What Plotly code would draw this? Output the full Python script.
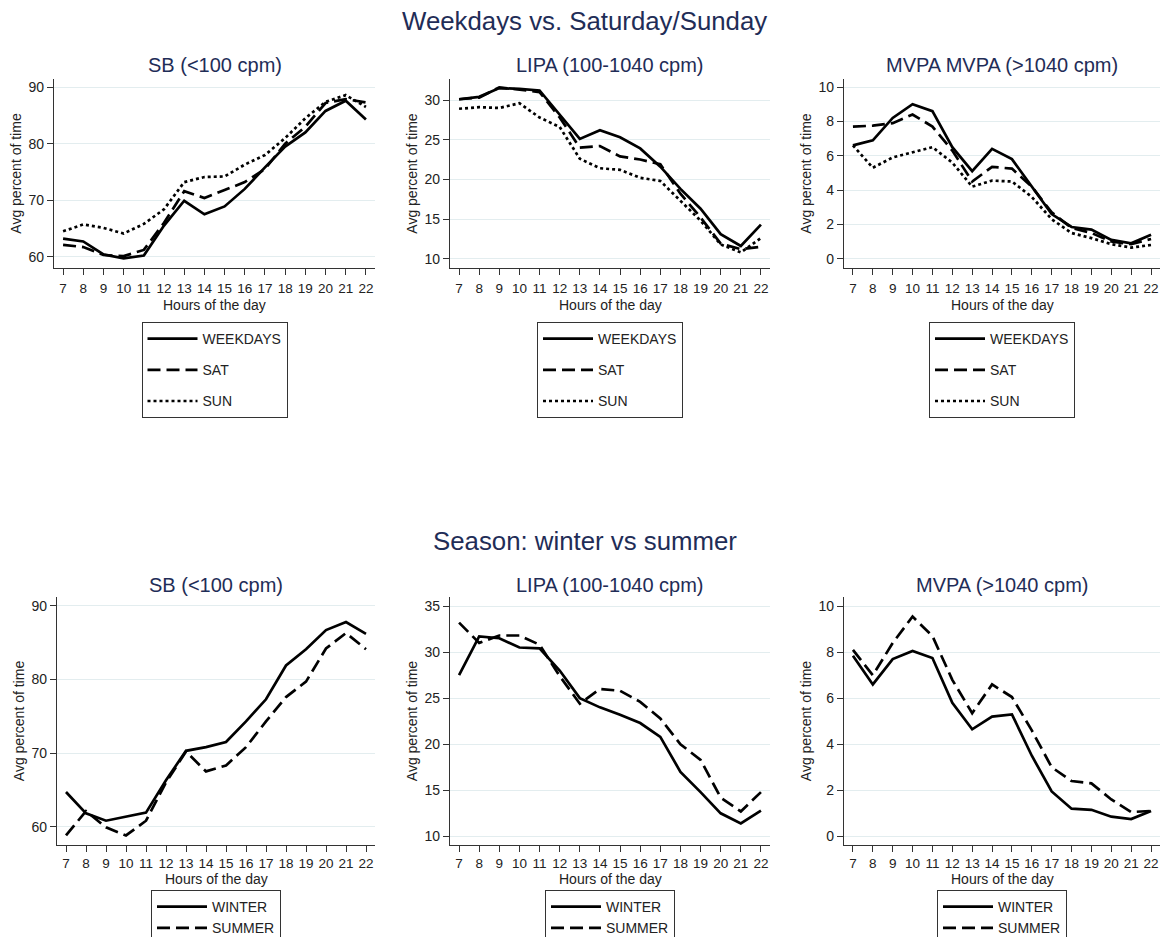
import plotly.graph_objects as go

W, H = 1169, 937

hours = list(range(7, 23))

# Weekdays vs. Saturday / Sunday (average percent of time per hour)
sb_weekdays = [63.2, 62.7, 60.4, 59.7, 60.2, 65.5, 69.9, 67.5, 68.9, 72.0, 75.8, 79.5, 82.0, 85.8, 87.6, 84.3]
sb_sat = [62.1, 61.7, 60.3, 60.1, 61.2, 66.0, 71.6, 70.4, 71.8, 73.2, 75.5, 80.0, 83.0, 87.2, 87.9, 87.3]
sb_sun = [64.5, 65.7, 65.1, 64.1, 65.8, 68.4, 73.2, 74.1, 74.2, 76.3, 78.0, 81.0, 84.5, 87.4, 88.6, 86.5]

lipa_weekdays = [30.1, 30.4, 31.5, 31.4, 31.2, 28.2, 25.1, 26.2, 25.3, 23.9, 21.6, 18.8, 16.3, 13.1, 11.6, 14.3]
lipa_sat = [30.1, 30.3, 31.6, 31.3, 31.0, 27.8, 24.0, 24.2, 22.9, 22.5, 21.9, 18.2, 15.2, 11.9, 11.2, 11.5]
lipa_sun = [28.9, 29.1, 29.0, 29.6, 27.8, 26.6, 22.6, 21.4, 21.2, 20.2, 19.8, 17.3, 14.8, 11.8, 10.8, 12.6]

mvpa_weekdays = [6.6, 6.9, 8.2, 9.0, 8.6, 6.5, 5.1, 6.4, 5.8, 4.2, 2.6, 1.85, 1.7, 1.1, 0.9, 1.4]
mvpa_sat = [7.7, 7.75, 7.9, 8.4, 7.7, 6.3, 4.5, 5.35, 5.25, 4.2, 2.7, 1.8, 1.5, 1.0, 0.85, 1.15]
mvpa_sun = [6.6, 5.3, 5.9, 6.2, 6.5, 5.6, 4.2, 4.55, 4.5, 3.6, 2.3, 1.5, 1.2, 0.85, 0.65, 0.8]

# Season: winter vs summer
sb_winter = [64.7, 61.8, 60.8, 61.4, 61.9, 66.3, 70.3, 70.8, 71.5, 74.3, 77.3, 81.9, 84.1, 86.7, 87.8, 86.2]
sb_summer = [58.8, 62.1, 59.9, 58.8, 60.8, 66.0, 70.2, 67.5, 68.3, 70.8, 74.3, 77.6, 79.7, 84.2, 86.3, 84.1]

lipa_winter = [27.5, 31.7, 31.5, 30.5, 30.4, 28.0, 25.0, 24.0, 23.2, 22.3, 20.8, 17.0, 14.8, 12.5, 11.4, 12.8]
lipa_summer = [33.2, 31.0, 31.8, 31.8, 30.8, 27.4, 24.4, 26.0, 25.8, 24.6, 22.8, 20.0, 18.3, 14.2, 12.7, 14.8]

mvpa_winter = [7.85, 6.6, 7.7, 8.05, 7.75, 5.8, 4.65, 5.2, 5.3, 3.5, 1.95, 1.2, 1.15, 0.85, 0.75, 1.1]
mvpa_summer = [8.1, 7.0, 8.4, 9.55, 8.7, 6.8, 5.35, 6.6, 6.05, 4.6, 3.0, 2.4, 2.3, 1.6, 1.05, 1.1]

day_names = ["WEEKDAYS", "SAT", "SUN"]
season_names = ["WINTER", "SUMMER"]

section_titles = ["Weekdays vs. Saturday/Sunday", "Season: winter vs summer"]
panel_titles = ["SB (<100 cpm)", "LIPA (100-1040 cpm)", "MVPA MVPA (>1040 cpm)",
                "SB (<100 cpm)", "LIPA (100-1040 cpm)", "MVPA (>1040 cpm)"]
x_title = "Hours of the day"
y_title = "Avg percent of time"

y_ticks = [[60, 70, 80, 90], [10, 15, 20, 25, 30], [0, 2, 4, 6, 8, 10],
           [60, 70, 80, 90], [10, 15, 20, 25, 30, 35], [0, 2, 4, 6, 8, 10]]
y_ranges = [[58.0, 91.45], [8.83, 32.65], [-0.54, 10.47],
            [57.5, 91.2], [9.06, 35.98], [-0.38, 10.4]]

panels = [
    [sb_weekdays, sb_sat, sb_sun],
    [lipa_weekdays, lipa_sat, lipa_sun],
    [mvpa_weekdays, mvpa_sat, mvpa_sun],
    [sb_winter, sb_summer],
    [lipa_winter, lipa_summer],
    [mvpa_winter, mvpa_summer],
]

# plot-area boxes in pixels: (left, right, top, bottom)
boxes = [
    (54, 375, 79, 268), (450, 770, 79, 268), (844, 1160, 79, 268),
    (57, 375, 597, 845), (450, 770, 597, 845), (844, 1160, 597, 845),
]

NAVY = "#1f2d57"
INK = "#222222"
FONT = "Liberation Sans, Arial, sans-serif"
dash_styles = ["solid", "13px,6px", "3px,3px"]


def fx(px):
    return px / W


def fy(py):
    return 1 - py / H


fig = go.Figure()
layout = dict(
    width=W, height=H,
    margin=dict(l=0, r=0, t=0, b=0, autoexpand=False),
    paper_bgcolor="white", plot_bgcolor="white",
    font=dict(family=FONT, color=INK, size=14),
    annotations=[], showlegend=True,
)

for i, (series, box) in enumerate(zip(panels, boxes)):
    n = i + 1
    sfx = "" if n == 1 else str(n)
    legend_id = "legend" + sfx
    top_row = i < 3
    names = day_names if top_row else season_names
    for j, (name, vals) in enumerate(zip(names, series)):
        fig.add_trace(go.Scatter(
            x=hours, y=vals, mode="lines", name=name,
            line=dict(color="black", width=2.7, dash=dash_styles[j]),
            xaxis="x" + sfx, yaxis="y" + sfx,
            legend=legend_id, legendgroup=f"{n}-{name}",
            hoverinfo="x+y+name",
        ))
    left, right, top, bottom = box
    layout["xaxis" + sfx] = dict(
        domain=[fx(left), fx(right)], anchor="y" + sfx,
        range=[6.55, 22.45], tickmode="array", tickvals=hours,
        ticks="outside", ticklen=6, tickwidth=1, tickcolor="#333",
        ticklabelstandoff=2 if top_row else 0,
        showline=True, linecolor="#333", linewidth=1.2,
        showgrid=False, zeroline=False,
        tickfont=dict(size=13.5, color=INK),
    )
    layout["yaxis" + sfx] = dict(
        domain=[fy(bottom), fy(top)], anchor="x" + sfx,
        range=y_ranges[i], tickmode="array", tickvals=y_ticks[i],
        ticks="outside", ticklen=6, tickwidth=1, tickcolor="#333",
        showline=True, linecolor="#333", linewidth=1.2,
        showgrid=True, gridcolor="#e3edef", gridwidth=1, zeroline=False,
        tickfont=dict(size=14, color=INK),
        title=dict(text=y_title, font=dict(size=14, color=INK), standoff=3),
    )
    cx = (left + right) / 2
    title_y = 65 if top_row else 585
    layout["annotations"].append(dict(
        text=panel_titles[i], x=fx(cx), y=fy(title_y), xref="paper", yref="paper",
        xanchor="center", yanchor="middle", showarrow=False,
        font=dict(size=20, color=NAVY, family=FONT),
    ))
    # x-axis title under the hour labels
    layout["annotations"].append(dict(
        text=x_title, x=fx(cx), y=fy(305 if top_row else 879), xref="paper", yref="paper",
        xanchor="center", yanchor="middle", showarrow=False,
        font=dict(size=14, color=INK, family=FONT),
    ))
    legend_top = 322 if top_row else 890
    layout[legend_id] = dict(
        x=fx(cx), y=fy(legend_top), xanchor="center", yanchor="top",
        xref="paper", yref="paper",
        bordercolor="#333", borderwidth=1, bgcolor="white",
        font=dict(size=14, color=INK, family=FONT),
        traceorder="grouped", tracegroupgap=10 if top_row else 0,
        itemwidth=50,
    )

for text, py in zip(section_titles, [21, 541]):
    layout["annotations"].append(dict(
        text=text, x=0.5, y=fy(py), xref="paper", yref="paper",
        xanchor="center", yanchor="middle", showarrow=False,
        font=dict(size=25.8, color=NAVY, family=FONT),
    ))

fig.update_layout(**layout)
fig.write_html("out.html")
